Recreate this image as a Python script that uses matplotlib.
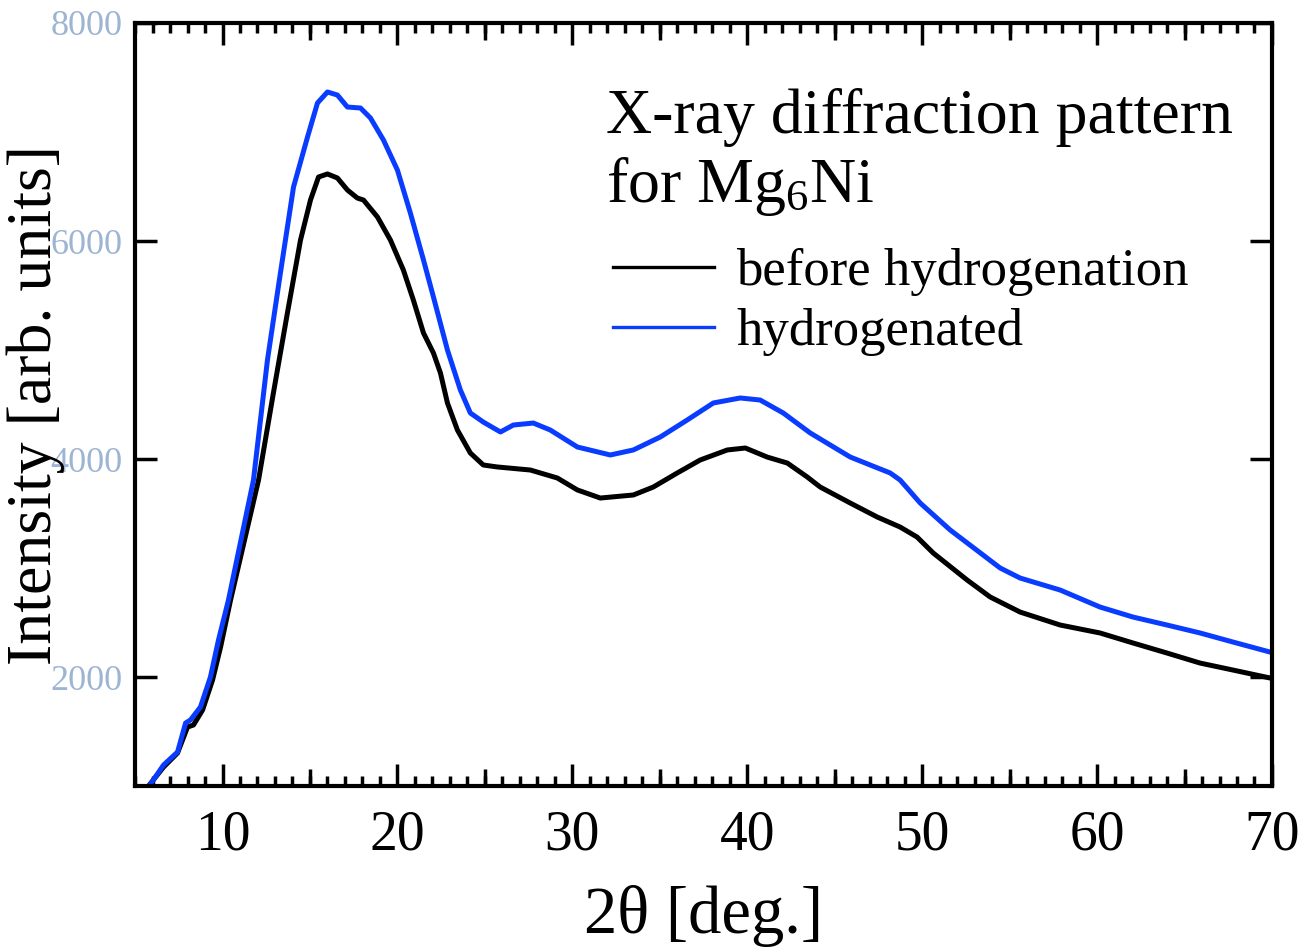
import numpy as np
import matplotlib.pyplot as plt
from matplotlib.ticker import MultipleLocator

plt.rcParams['font.family'] = ['Liberation Serif', 'DejaVu Serif']
plt.rcParams['mathtext.fontset'] = 'custom'
plt.rcParams['mathtext.rm'] = 'Liberation Serif'
plt.rcParams['mathtext.it'] = 'Liberation Serif:italic'

# before hydrogenation (black)
x_before = [5.77, 6.63, 7.43, 8.0, 8.34, 8.86, 9.43, 9.89, 10.46, 12.06, 12.91, 13.71,
            14.46, 15.03, 15.49, 16.0, 16.57, 17.14, 17.71, 18.06, 18.86, 19.6, 20.34,
            20.91, 21.49, 22.06, 22.46, 22.86, 23.43, 24.17, 24.91, 25.71, 27.6, 29.14,
            30.29, 31.6, 33.49, 34.63, 36.0, 37.31, 38.86, 39.89, 41.14, 42.29, 43.43,
            44.17, 45.89, 47.43, 48.74, 49.71, 50.63, 52.57, 53.89, 55.6, 57.89, 60.17,
            62.06, 64.0, 65.89, 67.77, 69.89]
y_before = [1000, 1174, 1303, 1541, 1560, 1697, 1972, 2275, 2706, 3807, 4606, 5339,
            6009, 6376, 6587, 6615, 6578, 6468, 6394, 6376, 6220, 6009, 5734,
            5459, 5156, 4972, 4789, 4514, 4266, 4055, 3945, 3927, 3899, 3826,
            3716, 3642, 3670, 3743, 3872, 3991, 4083, 4101, 4018, 3963, 3835,
            3743, 3596, 3468, 3376, 3284, 3138, 2890, 2734, 2596, 2477, 2404,
            2312, 2220, 2128, 2064, 1991]

# hydrogenated (blue)
x_hyd = [5.77, 6.63, 7.43, 7.89, 8.17, 8.74, 9.31, 9.77, 10.34, 11.77, 12.57, 13.31,
         14.06, 14.86, 15.43, 16.0, 16.57, 17.14, 17.89, 18.46, 19.2, 20.0, 20.74,
         21.49, 22.06, 22.86, 23.6, 24.17, 24.91, 25.89, 26.63, 27.77, 28.74, 30.29,
         32.17, 33.49, 35.03, 36.57, 38.06, 39.6, 40.74, 42.06, 43.6, 45.89, 48.17,
         48.74, 49.89, 51.6, 54.46, 55.6, 57.89, 60.17, 62.06, 64.0, 65.89, 67.77, 69.89]
y_hyd = [991, 1193, 1312, 1578, 1606, 1725, 2000, 2339, 2706, 3807, 4908, 5706,
         6495, 6954, 7266, 7367, 7339, 7229, 7220, 7128, 6927, 6651, 6257,
         5826, 5486, 5000, 4633, 4422, 4339, 4248, 4312, 4330, 4266, 4110,
         4037, 4083, 4202, 4358, 4514, 4560, 4541, 4422, 4239, 4018, 3872,
         3807, 3596, 3349, 3000, 2908, 2798, 2642, 2550, 2477, 2404, 2321, 2229]

labels = ['before hydrogenation', 'hydrogenated']
colors = ['black', '#0a3cff']

fig = plt.figure(figsize=(13.01, 9.5), dpi=100)
ax = fig.add_axes([0.1038, 0.1726, 0.8739, 0.8032])

ax.plot(x_before, y_before, color=colors[0], lw=3.6, label=labels[0])
ax.plot(x_hyd, y_hyd, color=colors[1], lw=3.6, label=labels[1])

ax.set_xlim(5, 70)
ax.set_ylim(1000, 8000)
ax.set_xticks([10, 20, 30, 40, 50, 60, 70])
ax.set_yticks([2000, 4000, 6000, 8000])
ax.xaxis.set_minor_locator(MultipleLocator(1))

for s in ax.spines.values():
    s.set_linewidth(3)

ax.tick_params(axis='x', which='major', direction='in', length=16, width=2.5,
               top=True, labelsize=40, pad=17)
ax.tick_params(axis='x', which='minor', direction='in', length=7.5, width=2.5, top=True)
ax.tick_params(axis='y', which='major', direction='in', length=16, width=2.5,
               right=True, labelsize=26, labelcolor='#9db4d2', pad=9)

# medium ticks every 10 starting at 15
for side in ['bottom', 'top']:
    sec = ax.secondary_xaxis(side)
    sec.set_xticks([15, 25, 35, 45, 55, 65])
    sec.tick_params(direction='in', length=12.5, width=2.5, labelbottom=False,
                    labeltop=False)
    sec.spines[side].set_visible(False)

ax.set_xlabel('2θ [deg.]', fontsize=48)
ax.xaxis.set_label_coords(0.5, -0.13)
ax.set_ylabel('Intensity [arb. units]', fontsize=46)
ax.yaxis.set_label_coords(-0.062, 0.5)

ax.text(0.414, 0.915, 'X-ray diffraction pattern\nfor Mg$_6$Ni', transform=ax.transAxes,
        fontsize=46, va='top', ha='left', linespacing=1.18)

leg = ax.legend(loc='upper left', bbox_to_anchor=(0.42, 0.705), frameon=False,
                fontsize=38, handlelength=1.92, handletextpad=0.42, labelspacing=0.23,
                borderpad=0, borderaxespad=0)
for ln in leg.get_lines():
    ln.set_linewidth(2.4)

fig.savefig('out.png', dpi=100)
